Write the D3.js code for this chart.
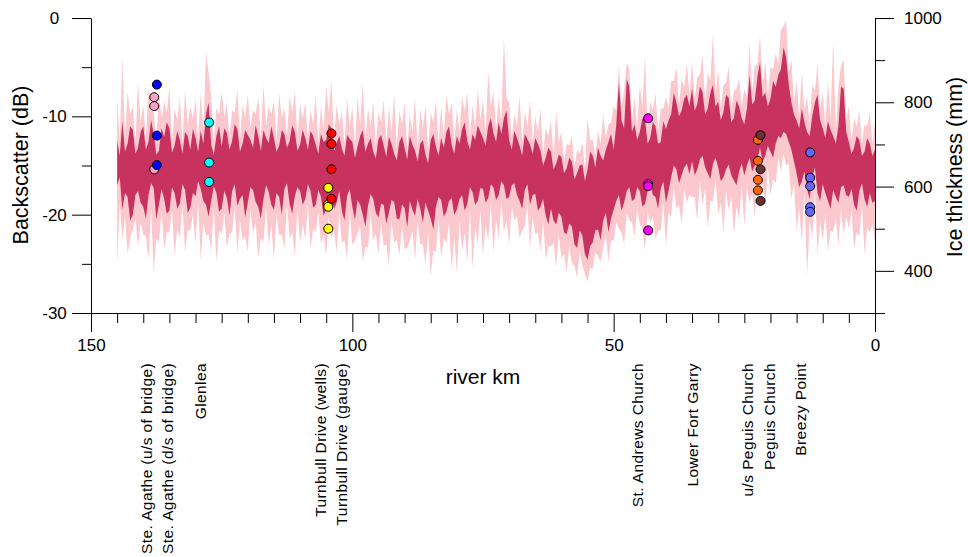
<!DOCTYPE html>
<html>
<head>
<meta charset="utf-8">
<script src="https://cdn.jsdelivr.net/npm/d3@7"></script>
<style>
  body { margin: 0; background: #fff; }
  svg text { font-family: "Liberation Sans", Arial, sans-serif; fill: #000; }
</style>
</head>
<body>
<svg id="chart" width="968" height="557"></svg>
<script>
// backscatter profile, one sample every half river km (145 -> 0)
// each row below covers 5 km
const riverKm = d3.range(145, -0.5, -0.5);

// dark band (inner spread), dB
const darkHigh = [
  -12.5, -14.0, -10.5, -13.6, -12.8, -11.0, -11.4, -13.8, -13.2, -11.6,
  -11.0, -13.4, -12.6, -10.4, -11.8, -13.9, -13.5, -11.2, -12.1, -10.6,
  -11.2, -13.7, -13.0, -11.5, -12.4, -13.8, -11.6, -12.0, -13.4, -11.3,
  -12.2, -13.6, -11.5, -12.8, -9.8, -8.6, -12.9, -13.9, -12.0, -11.0,
  -13.1, -11.2, -11.7, -13.4, -12.5, -10.8, -11.3, -13.6, -12.8, -11.4,
  -11.9, -12.4, -13.2, -10.9, -12.0, -13.5, -11.4, -12.2, -12.7, -11.0,
  -12.2, -13.6, -13.0, -11.4, -11.8, -13.2, -12.5, -10.9, -11.6, -13.5,
  -12.9, -11.4, -12.2, -13.4, -11.5, -12.0, -12.9, -13.8, -11.8, -12.6,
  -12.4, -10.8, -11.2, -13.5, -12.7, -12.0, -13.3, -14.0, -11.9, -12.3,
  -12.6, -14.2, -13.1, -12.0, -11.4, -13.6, -12.8, -12.2, -13.6, -14.3,
  -12.3, -11.9, -13.0, -14.1, -12.1, -12.8, -13.8, -14.5, -12.6, -12.0,
  -13.2, -14.4, -12.0, -12.9, -13.5, -14.6, -12.8, -12.4, -13.9, -14.8,
  -12.4, -11.8, -13.1, -14.0, -12.2, -13.2, -11.6, -11.0, -12.9, -13.8,
  -12.0, -12.8, -11.3, -10.6, -12.5, -13.4, -11.8, -12.4, -10.9, -11.6,
  -12.2, -13.0, -11.0, -10.2, -11.7, -12.6, -10.6, -11.8, -10.2, -9.4,
  -12.4, -13.4, -11.5, -12.2, -13.0, -14.0, -11.8, -12.3, -12.9, -13.8,
  -12.2, -12.8, -13.5, -15.0, -14.2, -13.2, -13.6, -15.4, -14.8, -13.9,
  -14.1, -15.8, -15.3, -14.2, -14.6, -16.4, -15.8, -15.0, -14.9, -16.6,
  -15.4, -13.6, -14.0, -15.2, -13.2, -14.0, -14.5, -13.4, -12.6, -11.8,
  -13.4, -10.8, -6.5, -10.4, -11.2, -6.2, -7.0, -11.6, -10.8, -12.4,
  -11.6, -10.2, -10.4, -12.8, -12.2, -10.6, -11.0, -12.8, -12.6, -10.5,
  -11.3, -10.4, -9.8, -7.6, -8.6, -10.0, -9.4, -8.2, -7.8, -9.0,
  -7.2, -9.4, -8.8, -7.0, -7.5, -9.8, -9.2, -7.6, -6.8, -9.0,
  -8.5, -10.4, -9.6, -7.8, -8.1, -10.6, -10.2, -8.4, -9.0, -10.2,
  -10.8, -9.2, -5.8, -8.8, -8.4, -6.0, -4.5, -8.0, -7.6, -9.0,
  -8.2, -6.4, -7.0, -5.8, -5.2, -3.0, -4.0, -6.8, -8.6, -9.8,
  -10.4, -11.2, -9.2, -10.6, -11.6, -12.0, -10.0, -8.6, -7.8, -10.4,
  -11.2, -12.2, -10.5, -11.4, -12.0, -12.8, -11.0, -7.0, -7.2, -11.6,
  -12.6, -13.8, -13.2, -12.0, -12.4, -14.0, -13.6, -12.2, -12.8, -14.0,
  -13.4
];
const darkLow = [
  -17.0, -16.2, -19.5, -17.8, -18.2, -20.6, -20.0, -18.0, -17.6, -18.8,
  -19.2, -20.4, -18.0, -16.8, -17.3, -20.5, -19.0, -17.4, -18.4, -19.9,
  -19.6, -17.2, -17.8, -19.4, -18.9, -16.9, -17.5, -19.8, -19.3, -17.8,
  -18.1, -16.6, -17.4, -18.6, -19.0, -20.2, -18.6, -17.1, -17.8, -19.7,
  -19.4, -17.6, -18.3, -20.1, -17.6, -16.9, -19.1, -18.4, -18.0, -20.3,
  -18.8, -17.2, -17.5, -18.7, -19.2, -20.4, -18.4, -17.0, -17.7, -19.0,
  -19.5, -17.8, -18.2, -20.0, -17.4, -16.8, -18.9, -19.9, -18.1, -17.2,
  -17.6, -19.0, -18.4, -16.9, -17.6, -19.3, -19.0, -17.5, -18.2, -20.1,
  -19.5, -18.0, -17.9, -19.4, -18.8, -17.6, -19.6, -20.6, -18.1, -17.4,
  -19.2, -20.5, -18.5, -19.0, -20.0, -21.2, -19.1, -17.9, -18.4, -19.8,
  -20.3, -18.9, -19.0, -20.9, -19.8, -18.5, -18.7, -20.4, -20.5, -19.0,
  -19.3, -21.3, -18.6, -19.5, -20.1, -18.4, -19.4, -20.8, -18.8, -19.6,
  -20.4, -21.5, -19.2, -18.2, -18.5, -20.2, -19.7, -18.6, -18.3, -20.0,
  -19.5, -18.4, -18.0, -19.6, -18.9, -17.2, -17.7, -19.0, -18.6, -17.3,
  -17.4, -18.8, -18.3, -16.9, -17.2, -18.5, -18.0, -16.6, -17.0, -18.4,
  -18.2, -17.0, -16.8, -18.0, -18.6, -19.4, -17.5, -16.9, -19.0, -18.0,
  -17.9, -19.6, -19.2, -18.4, -20.1, -21.0, -19.4, -20.6, -21.0, -19.8,
  -20.2, -21.8, -22.0, -20.9, -21.2, -23.0, -23.4, -21.6, -22.1, -24.0,
  -24.6, -23.2, -22.8, -21.6, -21.5, -22.6, -20.6, -19.8, -21.8, -20.4,
  -19.5, -18.6, -18.0, -19.6, -18.8, -17.6, -17.2, -18.6, -18.4, -17.2,
  -17.6, -19.2, -18.9, -17.6, -16.8, -18.0, -18.2, -19.4, -17.4, -16.6,
  -18.8, -17.6, -16.2, -15.0, -15.4, -16.8, -16.0, -15.2, -14.8, -15.9,
  -14.6, -16.0, -15.4, -14.4, -14.0, -15.2, -15.8, -16.4, -14.8, -14.2,
  -15.2, -16.6, -16.2, -15.4, -14.9, -16.0, -16.5, -17.0, -15.6, -14.8,
  -16.0, -15.0, -14.2, -15.6, -15.0, -14.4, -13.2, -14.6, -14.0, -13.0,
  -13.6, -14.2, -12.8, -12.0, -12.2, -11.6, -11.8, -12.6, -13.4, -14.6,
  -15.8, -17.2, -16.6, -15.6, -17.4, -18.4, -16.2, -15.2, -17.8, -18.6,
  -16.9, -17.8, -18.6, -19.4, -17.5, -18.2, -18.8, -17.2, -17.0, -18.0,
  -18.2, -17.4, -19.0, -19.6, -17.6, -16.8, -18.4, -19.2, -17.8, -18.8,
  -18.6
];

// light band (full spread), dB
const lightHigh = [
  -8.0, -12.6, -4.0, -12.4, -7.5, -9.8, -9.0, -12.8, -6.5, -10.6,
  -8.8, -12.4, -7.2, -9.4, -9.5, -12.8, -7.8, -10.2, -8.5, -9.6,
  -7.0, -12.6, -9.2, -10.4, -8.1, -12.6, -7.4, -10.8, -9.0, -10.2,
  -8.3, -12.4, -7.6, -11.6, -3.5, -5.5, -8.0, -12.8, -9.1, -9.8,
  -7.5, -10.0, -8.7, -12.2, -9.4, -9.6, -7.2, -12.4, -8.9, -10.2,
  -7.8, -11.2, -9.3, -9.8, -8.0, -12.2, -6.8, -11.0, -9.0, -9.8,
  -8.4, -12.4, -7.6, -10.2, -9.2, -12.0, -8.0, -9.6, -7.4, -12.2,
  -8.8, -10.2, -8.6, -12.2, -9.3, -10.8, -7.9, -12.6, -9.0, -11.4,
  -7.0, -9.6, -6.3, -12.2, -8.8, -10.8, -9.5, -12.8, -8.2, -11.0,
  -9.1, -13.0, -8.0, -10.8, -6.5, -12.4, -9.2, -11.0, -8.5, -13.0,
  -9.6, -10.6, -8.3, -12.8, -9.0, -11.6, -7.8, -13.2, -9.4, -10.8,
  -8.7, -13.2, -9.8, -11.6, -8.1, -13.4, -9.2, -11.2, -8.9, -13.4,
  -9.6, -10.6, -8.4, -12.8, -9.0, -12.0, -7.9, -9.8, -8.6, -12.6,
  -9.3, -11.6, -8.0, -9.4, -7.6, -12.2, -8.8, -11.2, -7.2, -10.4,
  -8.3, -11.8, -5.5, -9.0, -7.5, -11.4, -8.1, -10.6, -2.0, -8.2,
  -8.6, -12.2, -9.8, -11.0, -8.0, -12.8, -9.5, -11.0, -8.4, -12.6,
  -10.0, -11.6, -9.2, -13.8, -11.2, -12.0, -10.4, -14.2, -9.5, -12.6,
  -11.6, -14.6, -12.8, -13.0, -12.0, -15.2, -13.4, -13.8, -12.6, -15.4,
  -10.2, -12.4, -12.4, -14.0, -11.5, -12.8, -9.8, -12.2, -10.8, -10.6,
  -9.0, -9.4, -4.8, -9.2, -7.2, -4.6, -5.2, -10.4, -8.0, -11.2,
  -6.8, -9.0, -3.8, -11.6, -8.5, -9.4, -7.6, -11.6, -9.2, -9.2,
  -8.0, -9.2, -6.4, -6.4, -5.0, -8.8, -6.2, -7.0, -4.6, -7.8,
  -4.4, -8.2, -6.0, -5.8, -3.8, -8.6, -5.6, -6.4, -1.5, -7.8,
  -5.2, -9.2, -6.8, -6.6, -4.9, -9.4, -7.4, -7.2, -6.1, -9.0,
  -7.2, -8.0, -2.6, -7.6, -4.8, -4.8, -1.8, -6.8, -4.4, -7.8,
  -5.0, -5.2, -3.6, -4.6, -1.2, -0.8, -0.3, -5.6, -4.2, -8.6,
  -6.4, -10.0, -5.6, -9.4, -8.0, -10.8, -6.8, -7.4, -4.6, -9.2,
  -7.6, -11.0, -6.4, -10.2, -2.2, -11.6, -7.0, -4.8, -4.2, -10.4,
  -9.0, -12.6, -10.2, -11.0, -9.4, -12.8, -10.8, -11.0, -9.6, -12.8,
  -10.4
];
const lightLow = [
  -25.0, -19.0, -22.5, -20.2, -24.0, -22.4, -21.5, -20.4, -23.2, -20.8,
  -22.0, -22.2, -24.5, -19.4, -26.0, -22.4, -22.8, -19.6, -23.5, -21.8,
  -21.8, -19.6, -24.2, -21.4, -22.4, -19.0, -23.8, -21.6, -21.6, -20.0,
  -23.0, -18.8, -24.6, -20.8, -22.2, -22.0, -23.6, -19.4, -24.8, -21.6,
  -22.0, -19.8, -23.4, -22.0, -21.8, -19.2, -24.0, -20.6, -22.6, -22.2,
  -23.8, -19.4, -21.9, -20.8, -24.4, -22.4, -22.8, -19.2, -23.2, -21.0,
  -24.6, -20.0, -22.1, -22.0, -23.5, -19.0, -22.4, -21.8, -24.2, -19.4,
  -22.9, -21.0, -22.5, -19.0, -23.6, -21.4, -21.8, -19.8, -23.0, -22.0,
  -24.2, -20.2, -22.4, -21.6, -23.8, -19.8, -22.9, -22.6, -24.5, -19.6,
  -23.1, -22.6, -22.0, -21.2, -24.8, -23.2, -23.4, -20.0, -22.6, -22.0,
  -24.0, -21.0, -23.2, -23.0, -25.2, -20.6, -22.8, -22.6, -24.1, -21.2,
  -23.5, -23.4, -22.7, -21.6, -24.6, -20.6, -23.0, -23.0, -25.0, -21.8,
  -26.2, -23.6, -23.8, -20.4, -24.4, -22.4, -22.9, -20.8, -25.6, -22.2,
  -26.0, -20.6, -23.7, -21.8, -24.8, -19.4, -25.5, -21.2, -23.0, -19.6,
  -24.2, -21.0, -22.6, -19.0, -23.8, -20.6, -22.4, -18.8, -21.8, -20.6,
  -23.0, -19.2, -20.6, -20.2, -22.4, -21.6, -21.2, -19.0, -23.5, -20.2,
  -22.0, -21.8, -23.8, -20.6, -24.6, -23.2, -23.2, -22.8, -25.4, -22.0,
  -24.4, -24.0, -25.8, -23.2, -24.9, -25.2, -26.4, -23.8, -25.2, -26.0,
  -26.8, -25.4, -25.5, -23.8, -24.2, -24.8, -23.4, -22.0, -24.8, -22.6,
  -22.6, -20.8, -21.4, -21.8, -23.0, -19.8, -20.6, -20.8, -22.2, -19.4,
  -21.0, -21.4, -23.6, -19.8, -20.8, -20.2, -22.5, -21.6, -21.6, -18.8,
  -23.2, -19.8, -20.2, -17.2, -19.4, -19.0, -21.0, -17.4, -18.8, -18.0,
  -18.2, -18.2, -20.6, -16.6, -19.0, -17.4, -21.4, -18.6, -18.6, -16.4,
  -20.0, -18.8, -21.8, -17.6, -19.6, -18.2, -22.0, -19.2, -20.4, -17.0,
  -21.2, -17.2, -18.8, -17.8, -20.2, -16.6, -17.6, -16.8, -19.4, -15.2,
  -18.0, -16.4, -16.8, -14.2, -15.6, -13.8, -15.0, -14.8, -18.4, -16.8,
  -21.6, -19.4, -22.8, -17.8, -26.2, -20.6, -22.4, -17.4, -24.0, -20.8,
  -22.6, -20.0, -23.8, -21.6, -21.8, -20.4, -23.2, -19.4, -22.0, -20.2,
  -21.4, -19.6, -23.6, -21.8, -22.2, -19.0, -24.0, -21.4, -21.8, -21.0,
  -22.8
];

// station labels along the bottom
const stationNames = [
  "Ste. Agathe (u/s of bridge)", "Ste. Agathe (d/s of bridge)", "Glenlea",
  "Turnbull Drive (wells)", "Turnbull Drive (gauge)", "St. Andrews Church",
  "Lower Fort Garry", "u/s Peguis Church", "Peguis Church", "Breezy Point"
];
const stationKm = [139.3, 135.4, 129.0, 106.1, 102.1, 45.4, 35.0, 24.3, 20.1, 14.3];

// ice thickness from auger holes (mm)
const holeSites = [
  "Ste. Agathe (u/s of bridge)", "Ste. Agathe (d/s of bridge)", "Glenlea",
  "Turnbull Drive (wells)", "Turnbull Drive (gauge)", "St. Andrews Church",
  "u/s Peguis Church", "Peguis Church", "Breezy Point"
];
const holeKm = [137.9, 137.4, 127.4, 104.6, 104.0, 43.4, 22.4, 21.9, 12.4];
const holeThickness = [
  [812, 791, 641],
  [842, 721, 651],
  [752, 657, 611],
  [597, 558, 552, 500],
  [726, 701, 641, 571],
  [762, 606, 601, 496],
  [711, 661, 616, 591],
  [722, 641, 566],
  [681, 621, 601, 551, 540]
];

const dbTicks = [-30, -20, -10, 0];
const dbMinor = [-25, -15, -5];
const iceTicks = [400, 600, 800, 1000];
const iceMinor = [300, 500, 700, 900];
const kmTicks = [150, 100, 50, 0];

const siteColour = {
  "Ste. Agathe (u/s of bridge)": "#ff9fc8",
  "Ste. Agathe (d/s of bridge)": "#0000ff",
  "Glenlea": "#00ffff",
  "Turnbull Drive (wells)": "#ffff00",
  "Turnbull Drive (gauge)": "#ff0000",
  "St. Andrews Church": "#ff00ff",
  "u/s Peguis Church": "#ff6600",
  "Peguis Church": "#663333",
  "Breezy Point": "#6666ff"
};

const svg = d3.select('#chart');
const plotLeft = 91, plotRight = 875, plotTop = 18, plotBottom = 313;

const x = d3.scaleLinear().domain([150, 0]).range([plotLeft, plotRight]);
const yDb = d3.scaleLinear().domain([-30, 0]).range([plotBottom, plotTop]);
const yIce = d3.scaleLinear().domain([300, 1000]).range([plotBottom, plotTop]);

const profile = riverKm.map((km, i) => ({
  km: km, dHi: darkHigh[i], dLo: darkLow[i], lHi: lightHigh[i], lLo: lightLow[i]
}));

// bands
svg.append('path')
  .datum(profile)
  .attr('fill', '#fbc8ce')
  .attr('d', d3.area().x(d => x(d.km)).y0(d => yDb(d.lLo)).y1(d => yDb(d.lHi)));

svg.append('path')
  .datum(profile)
  .attr('fill', '#c8325f')
  .attr('d', d3.area().x(d => x(d.km)).y0(d => yDb(d.dLo)).y1(d => yDb(d.dHi)));

// axes
const axisStyle = g => {
  g.selectAll('line').attr('stroke', '#000');
  g.selectAll('path').attr('stroke', '#000');
};
const plain = d => String(d);

const gLeft = svg.append('g').attr('transform', `translate(${plotLeft},0)`);
gLeft.call(d3.axisLeft(yDb).tickValues(dbTicks).tickSize(19).tickSizeOuter(0).tickFormat(plain))
  .call(axisStyle);
gLeft.selectAll('text')
  .attr('x', 54.5 - plotLeft).attr('text-anchor', 'middle')
  .style('font-size', '17px');
svg.append('g').attr('transform', `translate(${plotLeft},0)`)
  .call(d3.axisLeft(yDb).tickValues(dbMinor).tickSize(9).tickFormat(''))
  .call(g => g.select('.domain').remove())
  .call(axisStyle);

const gRight = svg.append('g').attr('transform', `translate(${plotRight},0)`);
gRight.call(d3.axisRight(yIce).tickValues(iceTicks).tickSize(19).tickSizeOuter(0).tickPadding(10).tickFormat(plain))
  .call(axisStyle);
gRight.selectAll('text').style('font-size', '17px');
svg.append('g').attr('transform', `translate(${plotRight},0)`)
  .call(d3.axisRight(yIce).tickValues(iceMinor).tickSize(10).tickFormat(''))
  .call(g => g.select('.domain').remove())
  .call(axisStyle);

const gBottom = svg.append('g').attr('transform', `translate(0,${plotBottom})`);
gBottom.call(d3.axisBottom(x).tickValues(kmTicks).tickSize(19).tickSizeOuter(0).tickPadding(7).tickFormat(plain))
  .call(axisStyle);
gBottom.selectAll('text').style('font-size', '17px');
svg.append('g').attr('transform', `translate(0,${plotBottom})`)
  .call(d3.axisBottom(x).tickValues(d3.range(145, 0, -5).filter(v => v % 50 !== 0)).tickSize(10).tickFormat(''))
  .call(g => g.select('.domain').remove())
  .call(axisStyle);

svg.selectAll('.tick text').attr('fill', '#000');

// axis titles
svg.append('text')
  .attr('transform', 'translate(28,165) rotate(-90)')
  .attr('text-anchor', 'middle')
  .style('font-size', '21.5px')
  .text('Backscatter (dB)');

svg.append('text')
  .attr('transform', 'translate(962,167) rotate(-90)')
  .attr('text-anchor', 'middle')
  .style('font-size', '21.5px')
  .text('Ice thickness (mm)');

svg.append('text')
  .attr('x', 483).attr('y', 384)
  .attr('text-anchor', 'middle')
  .style('font-size', '21px')
  .text('river km');

// station names
svg.append('g').selectAll('text')
  .data(stationNames)
  .join('text')
  .attr('transform', (d, i) => `translate(${x(stationKm[i])},363) rotate(-90)`)
  .attr('dy', '0.35em')
  .attr('text-anchor', 'end')
  .style('font-size', '15.5px')
  .style('letter-spacing', '0.4px')
  .text(d => d);

// ice thickness holes
const holes = [];
holeSites.forEach((site, i) => {
  holeThickness[i].forEach(t => holes.push({ site: site, km: holeKm[i], mm: t }));
});

svg.append('g').selectAll('circle')
  .data(holes)
  .join('circle')
  .attr('cx', d => x(d.km))
  .attr('cy', d => yIce(d.mm))
  .attr('r', 4.5)
  .attr('fill', d => siteColour[d.site])
  .attr('stroke', '#000')
  .attr('stroke-width', 1);
</script>
</body>
</html>
